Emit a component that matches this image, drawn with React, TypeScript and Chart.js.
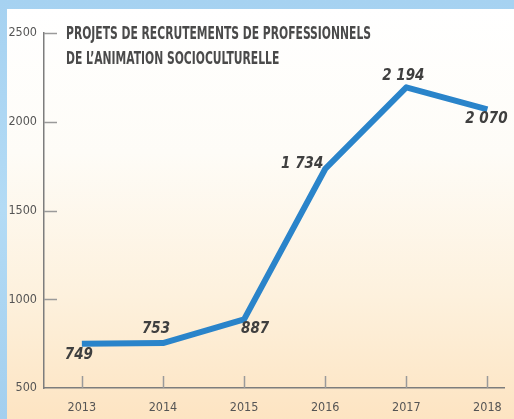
import React, { useEffect, useRef } from "react";
import { Chart, registerables } from "chart.js";

Chart.register(...registerables);

// ---- Data ----
const YEARS = [2013, 2014, 2015, 2016, 2017, 2018];
const RECRUITMENTS = [749, 753, 887, 1734, 2194, 2070];
const Y_TICKS = [500, 1000, 1500, 2000, 2500];
const TITLE_LINES = [
  "PROJETS DE RECRUTEMENTS DE PROFESSIONNELS",
  "DE L\u2019ANIMATION SOCIOCULTURELLE",
];
// label placement relative to each point (style, not data)
const LABEL_OFFSETS: [number, number][] = [
  [-3, 11],
  [-7, -14],
  [11, 10],
  [-23, -5],
  [-3, -11],
  [-1, 10],
];

const NARROW = "'Liberation Sans Narrow', 'DejaVu Sans Condensed', 'Arial Narrow', sans-serif";

const fmt = (v: number) => String(v).replace(/\B(?=(\d{3})+(?!\d))/g, " ");

const decorPlugin = {
  id: "decor",
  afterDatasetsDraw(chart: any) {
    const ctx = chart.ctx;
    const x = chart.scales.x;
    const y = chart.scales.y;
    ctx.save();
    // inner tick marks
    ctx.strokeStyle = "#9a9a9a";
    ctx.lineWidth = 1.5;
    const axisX = chart.chartArea.left;
    const axisY = chart.chartArea.bottom;
    Y_TICKS.forEach((t) => {
      if (t === Y_TICKS[0]) return;
      const py = Math.round(y.getPixelForValue(t)) + 0.5;
      ctx.beginPath();
      ctx.moveTo(axisX, py);
      ctx.lineTo(axisX + 13, py);
      ctx.stroke();
    });
    YEARS.forEach((yr) => {
      const px = Math.round(x.getPixelForValue(yr)) + 0.5;
      ctx.beginPath();
      ctx.moveTo(px, axisY);
      ctx.lineTo(px, axisY - 12);
      ctx.stroke();
    });

    // data labels
    const meta = chart.getDatasetMeta(0);
    ctx.fillStyle = "#3f3f3f";
    ctx.font = `italic bold 15px ${NARROW}`;
    ctx.textAlign = "center";
    ctx.textBaseline = "middle";
    meta.data.forEach((pt: any, i: number) => {
      const [dx, dy] = LABEL_OFFSETS[i];
      ctx.fillText(fmt(RECRUITMENTS[i]), pt.x + dx, pt.y + dy);
    });

    // title
    ctx.fillStyle = "#4a4a4a";
    ctx.font = `bold 18px ${NARROW}`;
    ctx.textAlign = "left";
    ctx.textBaseline = "alphabetic";
    const w0 = ctx.measureText(TITLE_LINES[0]).width;
    const sx = 305 / w0;
    ctx.save();
    ctx.translate(66, 0);
    ctx.scale(sx, 1);
    ctx.fillText(TITLE_LINES[0], 0, 39);
    ctx.fillText(TITLE_LINES[1], 0, 64);
    ctx.restore();
    ctx.restore();
  },
};

export default function App() {
  const ref = useRef<HTMLCanvasElement>(null);
  useEffect(() => {
    document.body.style.margin = "0";
    const chart = new Chart(ref.current!, {
      type: "line",
      data: {
        datasets: [
          {
            data: YEARS.map((yr, i) => ({ x: yr, y: RECRUITMENTS[i] })),
            borderColor: "#2a84ca",
            borderWidth: 6,
            pointRadius: 0,
            tension: 0,
            borderJoinStyle: "round",
            borderCapStyle: "butt",
            fill: false,
          },
        ],
      },
      options: {
        animation: false,
        responsive: false,
        layout: { padding: { top: 33, right: 8, left: 0, bottom: 0 } },
        plugins: {
          legend: { display: false },
          tooltip: { enabled: false },
          title: { display: false },
        },
        scales: {
          x: {
            type: "linear",
            min: 2013 - 38 / 81.4,
            max: 2018 + 17 / 81.4,
            afterBuildTicks: (s: any) => {
              s.ticks = YEARS.map((v) => ({ value: v }));
            },
            afterFit: (s: any) => {
              s.height = 31;
            },
            grid: { display: false, drawTicks: false },
            border: { display: true, color: "#7d7d7d", width: 1.5 },
            ticks: {
              padding: 12,
              color: "#555",
              font: { family: NARROW, size: 12.5 },
              callback: (v: any) => String(v),
              autoSkip: false,
              maxRotation: 0,
            },
          },
          y: {
            type: "linear",
            min: 500,
            max: 2500,
            afterBuildTicks: (s: any) => {
              s.ticks = Y_TICKS.map((v) => ({ value: v }));
            },
            afterFit: (s: any) => {
              s.width = 44;
            },
            grid: { display: false, drawTicks: false },
            border: { display: true, color: "#7d7d7d", width: 1.5 },
            ticks: {
              padding: 7,
              color: "#555",
              font: { family: NARROW, size: 12.5 },
              callback: (v: any) => String(v),
            },
          },
        },
      },
      plugins: [decorPlugin],
    } as any);
    return () => chart.destroy();
  }, []);

  return (
    <div
      style={{
        position: "absolute",
        left: 0,
        top: 0,
        width: 514,
        height: 419,
        overflow: "hidden",
        background: "linear-gradient(180deg, #a6d2f1 0%, #b3dbf5 50%, #a3cfee 100%)",
      }}
    >
      <div
        style={{
          position: "absolute",
          left: 7,
          top: 9,
          right: 0,
          bottom: 0,
          background: "linear-gradient(180deg, #ffffff 0%, #fefcf7 35%, #fdf1dd 70%, #fde4c2 100%)",
        }}
      />
      <canvas
        ref={ref}
        width={514}
        height={419}
        style={{ position: "absolute", left: 0, top: 0, width: 514, height: 419 }}
      />
    </div>
  );
}
